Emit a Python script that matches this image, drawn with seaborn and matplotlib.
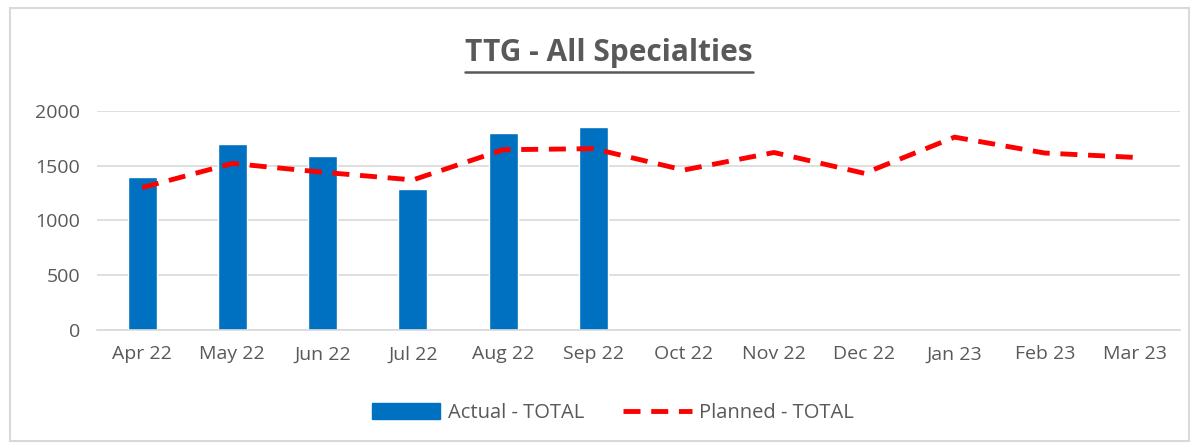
import numpy as np
import pandas as pd
import matplotlib
matplotlib.use('Agg')
import matplotlib.pyplot as plt
import seaborn as sns
from matplotlib.patches import Patch, Rectangle
from matplotlib.lines import Line2D

# ── Data ──────────────────────────────────────────────────────
months = ['Apr 22', 'May 22', 'Jun 22', 'Jul 22', 'Aug 22', 'Sep 22',
          'Oct 22', 'Nov 22', 'Dec 22', 'Jan 23', 'Feb 23', 'Mar 23']
actual = [1400, 1700, 1590, 1285, 1800, 1850,
          np.nan, np.nan, np.nan, np.nan, np.nan, np.nan]
planned = [1300, 1520, 1440, 1370, 1645, 1655,
           1460, 1620, 1430, 1760, 1615, 1575]

df = pd.DataFrame({'month': months, 'actual': actual, 'planned': planned})

BLUE = '#0070C0'
RED = '#FF0000'
TXT = '#595959'
GRID = '#D9D9D9'

sns.set_theme(style='white')
plt.rcParams['font.family'] = ['Open Sans', 'DejaVu Sans']

fig = plt.figure(figsize=(11.97, 4.45), dpi=100)
ax = fig.add_axes([0.081, 0.258, 0.905, 0.493])

sns.barplot(data=df, x='month', y='actual', order=months, color=BLUE,
            width=0.32, saturation=1, ax=ax)
sns.lineplot(x=np.arange(len(months)), y=df['planned'], color=RED,
             linewidth=3.5, ax=ax)
ax.lines[-1].set_dashes([3.5, 2.2])

ax.set_xlim(-0.5, len(months) - 0.5)
ax.set_ylim(0, 2000)
ax.set_yticks([0, 500, 1000, 1500, 2000])
ax.set_xlabel('')
ax.set_ylabel('')
ax.yaxis.grid(True, color=GRID, linewidth=1.2)
ax.set_axisbelow(True)
for s in ['top', 'right', 'left']:
    ax.spines[s].set_visible(False)
ax.spines['bottom'].set_color(GRID)
ax.spines['bottom'].set_linewidth(1.2)

# tick marks sit between categories, labels at centres
ax.set_xticks(np.arange(len(months)))
ax.set_xticklabels(months)
ax.set_xticks(np.arange(-0.5, len(months)), minor=True)
ax.tick_params(axis='x', which='major', length=0, pad=11, labelsize=14, labelcolor=TXT)
ax.tick_params(axis='x', which='minor', length=7, width=1.2, color=GRID, direction='out')
ax.tick_params(axis='y', length=0, pad=12, labelsize=14, labelcolor=TXT)

# title with underline
title = fig.text(0.5088, 0.8636, 'TTG - All Specialties', ha='center', va='baseline',
                 fontsize=21.5, fontweight='bold', color=TXT)
fig.canvas.draw()
bb = title.get_window_extent(fig.canvas.get_renderer()).transformed(fig.transFigure.inverted())
fig.add_artist(Line2D([bb.x0, bb.x1], [0.8636 - 0.0247] * 2,
                      transform=fig.transFigure, color=TXT, linewidth=1.8))

# legend
handles = [Patch(facecolor=BLUE, edgecolor=BLUE, label='Actual - TOTAL'),
           Line2D([0], [0], color=RED, linewidth=3.5, dashes=[3.5, 2.2],
                  label='Planned - TOTAL')]
fig.legend(handles=handles, loc='center', bbox_to_anchor=(0.512, 0.072), ncol=2,
           frameon=False, fontsize=14.5, labelcolor=TXT, handlelength=3.4,
           handleheight=0.8, handletextpad=0.37, columnspacing=1.95)

# chart border
fig.add_artist(Rectangle((0.008, 0.008), 0.985, 0.975, transform=fig.transFigure,
                         fill=False, edgecolor=GRID, linewidth=1.5))

plt.savefig('out.png', dpi=100)
plt.close()
